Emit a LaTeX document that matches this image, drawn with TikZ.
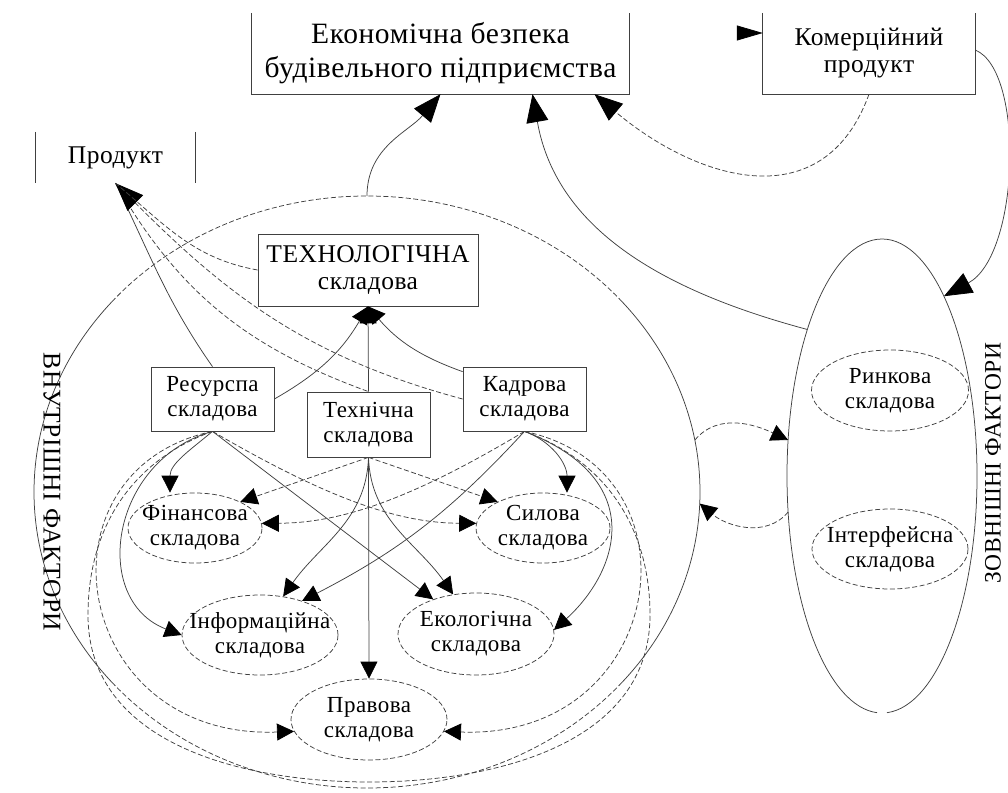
\documentclass[tikz,border=0pt]{standalone}
\usepackage{fontspec}
\setmainfont{Liberation Serif}[LetterSpace=2]
\usetikzlibrary{arrows.meta,shapes.geometric}
\begin{document}
\begin{tikzpicture}[x=1pt,y=1pt,
  ln/.style={line width=0.75pt, draw=black!75},
  dsh/.style={ln, dash pattern=on 5pt off 2.5pt},
  arr/.style={-{Triangle[length=17pt,width=17pt,color=black]}},
  barr/.style={-{Triangle[length=28pt,width=22pt,color=black]}},
  txt/.style={align=center, inner sep=0pt},
  bigtxt/.style={txt, font=\fontsize{29.5}{34}\selectfont},
  medtxt/.style={txt, font=\fontsize{25.5}{27}\selectfont},
  smtxt/.style={txt, font=\fontsize{23}{25}\selectfont},
  boxn/.style={rectangle, ln, draw, minimum width=123pt, minimum height=64pt, smtxt},
  ell/.style={ellipse, dsh, draw, inner sep=0pt},
]
\useasboundingbox (0,0) rectangle (1008,-792);

% top boxes
\node[bigtxt, minimum width=377pt, minimum height=81pt] (eb) at (440.5,-53.5) {Економічна безпека\\будівельного підприємства};
\draw[ln] (eb.north west) -- (eb.south west) -- (eb.south east) -- (eb.north east);
\node[medtxt, minimum width=212pt, minimum height=81pt] (kp) at (869,-53.5) {Комерційний\\продукт};
\draw[ln] (kp.north west) -- (kp.south west) -- (kp.south east) -- (kp.north east);
\node[medtxt, minimum width=159pt, minimum height=51pt] (prod) at (115.5,-157.5) {Продукт};
\draw[ln] (prod.north west) -- (prod.south west);
\draw[ln] (prod.north east) -- (prod.south east);

% big regions
\node[ellipse, minimum width=666pt, minimum height=592pt, inner sep=0pt, outer sep=0pt] (inner) at (367,-492) {};
\node[ellipse, minimum width=190pt, minimum height=474pt, inner sep=0pt, outer sep=0pt] (outer) at (882,-476) {};
\draw[ln] (inner.center) ++(-40:333 and 296) arc[start angle=-40, end angle=40, x radius=333, y radius=296];
\draw[dsh] (inner.center) ++(40:333 and 296) arc[start angle=40, end angle=140, x radius=333, y radius=296];
\draw[ln] (inner.center) ++(140:333 and 296) arc[start angle=140, end angle=220, x radius=333, y radius=296];
\draw[dsh] (inner.center) ++(220:333 and 296) arc[start angle=220, end angle=320, x radius=333, y radius=296];
\draw[ln] (outer.center) ++(-87:95 and 237) arc[start angle=-87, end angle=267, x radius=95, y radius=237];
\node[font=\fontsize{25.5}{25}\selectfont, rotate=-90] (vf) at (52,-492) {ВНУТРІШНІ ФАКТОРИ};
\node[font=\fontsize{23.5}{23}\selectfont, rotate=90] (zf) at (993,-463) {ЗОВНІШНІ ФАКТОРИ};

% inner boxes
\node[boxn, medtxt, minimum width=220pt, minimum height=72pt] (tech) at (368,-270) {ТЕХНОЛОГІЧНА\\складова};
\node[boxn] (res) at (212.5,-399) {Ресурспа\\складова};
\node[boxn, minimum height=65pt] (tn) at (368.5,-424.5) {Технічна\\складова};
\node[boxn] (kad) at (524.5,-399) {Кадрова\\складова};

% ellipses
\node[ell, minimum width=134pt, minimum height=70pt] (fin) at (195,-528) {};
\node[smtxt] (fin-t) at (fin) {Фінансова\\складова};
\node[ell, minimum width=134pt, minimum height=70pt] (sil) at (543,-528) {};
\node[smtxt] (sil-t) at (sil) {Силова\\складова};
\node[ell, minimum width=156pt, minimum height=80pt] (inf) at (260,-635) {};
\node[smtxt] (inf-t) at (inf) {Інформаційна\\складова};
\node[ell, minimum width=156pt, minimum height=82pt] (eko) at (476,-634) {};
\node[smtxt] (eko-t) at (eko) {Екологічна\\складова};
\node[ell, minimum width=156pt, minimum height=81pt] (prav) at (369,-719.5) {};
\node[smtxt] (prav-t) at (prav) {Правова\\складова};
\node[ell, minimum width=157pt, minimum height=81pt] (rin) at (890,-390.5) {};
\node[smtxt] (rin-t) at (rin) {Ринкова\\складова};
\node[ell, minimum width=156pt, minimum height=80pt] (intf) at (890,-549) {};
\node[smtxt] (intf-t) at (intf) {Інтерфейсна\\складова};

% top connectors
\draw[ln, barr] (inner.north) to[out=90, in=-130] (eb.south);
\draw[ln, barr] (outer.117) to[out=165, in=-80] ([xshift=92pt]eb.south);
\draw[dsh, barr] (kp.south) to[out=-110, in=-40, looseness=1.25] ([xshift=154pt]eb.south);
\coordinate (kin) at (737,-33);
\draw[ln, -{Triangle[length=26pt,width=15pt,color=black]}] (kin) -- ([yshift=20.5pt]kp.west);
\draw[ln, barr] ([yshift=3.5pt]kp.east) .. controls (1025,-70) and (1020,-255) .. (outer.71);

% inner <-> outer
\draw[dsh, arr] (inner.9) to[out=50, in=155] (outer.159);
\draw[dsh, arr] (outer.201) to[out=-130, in=-40] (inner.-2);

% to technological
\draw[ln, arr] (tn.north) -- (tech.south);
\draw[ln, arr] (res.east) to[bend right=15] (tech.south);
\draw[ln, arr] ([yshift=-5pt]kad.north west) to[bend left=15] (tech.south);

% to product
\draw[ln] (prod.south) to[out=-64, in=125] (res.north);
\draw[dsh] (prod.south) to[out=-60, in=160] (tn.north);
\draw[dsh, barr] (kad.west) to[out=165, in=-45] (prod.south);
\draw[dsh] (tech.west) to[out=170, in=-40] (prod.south);

% from resource
\draw[ln, arr] (res.south) to[out=-140, in=90] ([xshift=-25pt]fin.north);
\draw[ln, arr] (res.south) .. controls (110,-460) and (90,-600) .. (inf.west);
\draw[dsh, arr] (res.south) .. controls (30,-470) and (70,-740) .. (prav.189);
\draw[dsh] (res.south) to[out=-160, in=90] (88,-615) to[out=-90, in=180] (369,-782) to[out=0, in=-90] (650,-615) to[out=90, in=-20] (kad.south);
\draw[dsh, arr] (res.south) .. controls (330,-500) and (400,-523) .. (sil.176);
\draw[ln, arr] (res.south) -- (eko.141);

% from technical
\draw[dsh, arr] (tn.south) -- (fin.30);
\draw[dsh, arr] (tn.south) -- (sil.150);
\draw[ln, arr] (tn.south) to[out=-92, in=55] (inf.59);
\draw[ln, arr] (tn.south) to[out=-88, in=125] (eko.120);
\draw[ln, arr] (tn.south) -- (prav.north);

% from personnel
\draw[ln, arr] (kad.south) to[out=-20, in=90] ([xshift=24pt]sil.north);
\draw[ln, arr] (kad.south) .. controls (650,-480) and (618,-572) .. (eko.3);
\draw[dsh, arr] (kad.south) .. controls (707,-470) and (667,-740) .. (prav.-9);
\draw[ln, arr] (kad.south) to[bend left=10] (inf.39);
\draw[dsh, arr] (kad.south) .. controls (410,-500) and (340,-523) .. (fin.4);
\end{tikzpicture}
\end{document}
